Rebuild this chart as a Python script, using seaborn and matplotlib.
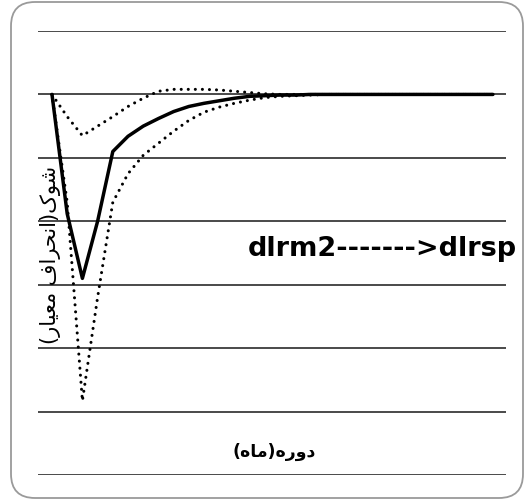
import matplotlib
matplotlib.use("Agg")
import matplotlib.pyplot as plt
import seaborn as sns
import pandas as pd
from matplotlib.patches import FancyBboxPatch

# ---------------- data ----------------
periods = list(range(1, 31))
response = [0.0, -0.0188, -0.0290, -0.0200, -0.0090, -0.0066, -0.0050, -0.0038,
            -0.0027, -0.0019, -0.0014, -0.0010, -0.0006, -0.0003, -0.0002, -0.0001,
            -0.0001, 0.0, 0.0, 0.0, 0.0, 0.0, 0.0, 0.0, 0.0, 0.0, 0.0, 0.0, 0.0, 0.0]
lower_band = [0.0, -0.0170, -0.0483, -0.0320, -0.0170, -0.0125, -0.0096, -0.0077,
              -0.0058, -0.0041, -0.0028, -0.0020, -0.0014, -0.0009, -0.0005, -0.0003,
              -0.0002, -0.0001, 0.0, 0.0, 0.0, 0.0, 0.0, 0.0, 0.0, 0.0, 0.0, 0.0, 0.0, 0.0]
upper_band = [0.0, -0.0035, -0.0065, -0.0050, -0.0035, -0.0019, -0.0006, 0.0005,
              0.0008, 0.0008, 0.0008, 0.0007, 0.0005, 0.0003, 0.0001, 0.0,
              0.0, 0.0, 0.0, 0.0, 0.0, 0.0, 0.0, 0.0, 0.0, 0.0, 0.0, 0.0, 0.0, 0.0]
grid_values = [0.01, 0.0, -0.01, -0.02, -0.03, -0.04, -0.05, -0.06]
title_text = "dlrm2------->dlrsp"
x_label = "دوره(ماه)"
y_label = "شوک(انحراف معیار)"

# ------------- minimal Arabic/Persian shaping for matplotlib -------------
FORMS = {  # iso, fin, ini, med
    "\u0627": ("\uFE8D", "\uFE8E"),
    "\u062D": ("\uFEA1", "\uFEA2", "\uFEA3", "\uFEA4"),
    "\u062F": ("\uFEA9", "\uFEAA"),
    "\u0631": ("\uFEAD", "\uFEAE"),
    "\u0634": ("\uFEB5", "\uFEB6", "\uFEB7", "\uFEB8"),
    "\u0639": ("\uFEC9", "\uFECA", "\uFECB", "\uFECC"),
    "\u0641": ("\uFED1", "\uFED2", "\uFED3", "\uFED4"),
    "\u0645": ("\uFEE1", "\uFEE2", "\uFEE3", "\uFEE4"),
    "\u0646": ("\uFEE5", "\uFEE6", "\uFEE7", "\uFEE8"),
    "\u0647": ("\uFEE9", "\uFEEA", "\uFEEB", "\uFEEC"),
    "\u0648": ("\uFEED", "\uFEEE"),
    "\u06A9": ("\uFB8E", "\uFB8F", "\uFB90", "\uFB91"),
    "\u06CC": ("\uFBFC", "\uFBFD", "\uFBFE", "\uFBFF"),
}


def shape_rtl(text):
    out = []
    n = len(text)
    for i, ch in enumerate(text):
        if ch not in FORMS:
            out.append(ch)
            continue
        prev = text[i - 1] if i > 0 else None
        nxt = text[i + 1] if i + 1 < n else None
        join_prev = prev in FORMS and len(FORMS[prev]) == 4
        join_next = len(FORMS[ch]) == 4 and nxt in FORMS
        f = FORMS[ch]
        if join_prev and join_next:
            out.append(f[3])
        elif join_prev:
            out.append(f[1])
        elif join_next:
            out.append(f[2])
        else:
            out.append(f[0])
    vis = "".join(reversed(out))
    return vis.translate(str.maketrans({"(": ")", ")": "("}))


# ---------------- figure ----------------
sns.set_theme(style="white")
W, H = 528, 502
fig = plt.figure(figsize=(W / 100, H / 100), dpi=100)
fig.patch.set_facecolor("white")

# rounded frame
bg = fig.add_axes([0, 0, 1, 1], zorder=-5)
bg.set_xlim(0, W)
bg.set_ylim(0, H)
bg.axis("off")
bg.add_patch(FancyBboxPatch((11 + 24, 3 + 24), 512 - 48, 496 - 48,
                            boxstyle="round,pad=24", fc="white",
                            ec="#9a9a9a", lw=1.3))

ax = fig.add_axes([38 / W, (H - 476) / H, (506 - 38) / W, (476 - 32) / H])
ax.patch.set_alpha(0)
df = pd.DataFrame({"period": periods, "response": response,
                   "lower": lower_band, "upper": upper_band})

sns.lineplot(data=df, x="period", y="response", ax=ax, color="black",
             linewidth=2.5, solid_joinstyle="round", zorder=4)
for col in ["lower", "upper"]:
    sns.lineplot(data=df, x="period", y=col, ax=ax, color="black",
                 linewidth=2.2, linestyle=(0, (0.01, 2.3)),
                 dash_capstyle="round", zorder=3)

ax.set_xlim(0.08, 30.86)
ax.set_ylim(-0.06, 0.01)
ax.set_yticks(grid_values)
ax.set_xticks([])
ax.tick_params(left=False, bottom=False, labelleft=False, labelbottom=False)
ax.grid(axis="y", color="#3c3c3c", linewidth=1.3)
ax.set_axisbelow(True)
for s in ax.spines.values():
    s.set_visible(False)
ax.set_xlabel("")
ax.set_ylabel("")

fig.text(248 / W, (H - 256) / H, title_text, ha="left", va="baseline",
         fontsize=19.5, fontweight="bold", family="DejaVu Sans", color="black")
fig.text(274 / W, (H - 452) / H, shape_rtl(x_label), ha="center",
         va="center", fontsize=12.5, fontweight="bold",
         family=["DejaVu Sans"], color="black")
fig.text(51 / W, (H - 255) / H, shape_rtl(y_label), ha="center",
         va="center", rotation=90, fontsize=15, family=["DejaVu Sans"],
         color="black", zorder=10)

fig.savefig("out.png", dpi=100)
